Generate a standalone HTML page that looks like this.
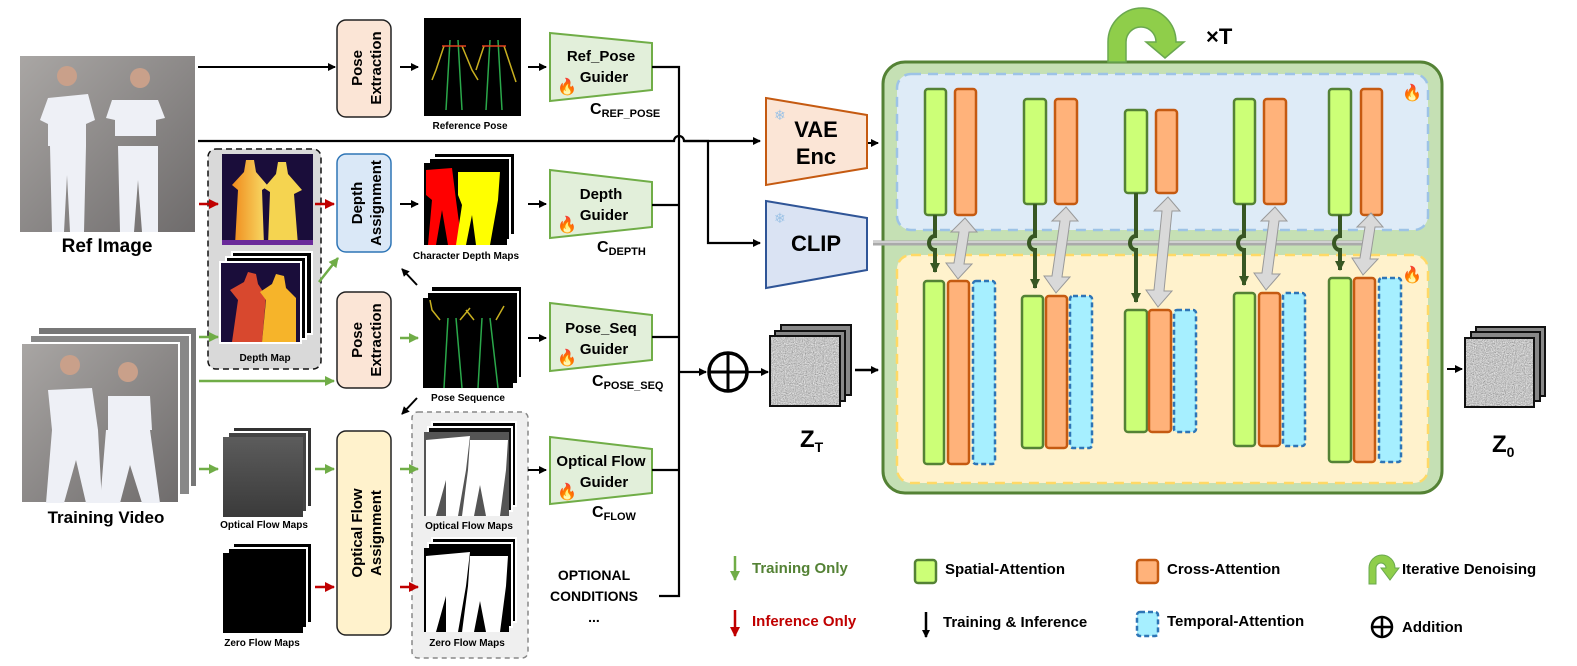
<!DOCTYPE html>
<html><head><meta charset="utf-8"><style>
html,body{margin:0;padding:0;background:#fff;}
svg{display:block;font-family:"Liberation Sans",sans-serif;}
.b{font-weight:bold;}
</style></head><body>
<svg width="1577" height="666" viewBox="0 0 1577 666" xmlns="http://www.w3.org/2000/svg">
<defs>
<marker id="ak" markerWidth="8" markerHeight="8" refX="7" refY="4" orient="auto" markerUnits="userSpaceOnUse"><path d="M0,0L8,4L0,8z" fill="#000"/></marker>
<marker id="ag" markerWidth="10" markerHeight="10" refX="9" refY="5" orient="auto" markerUnits="userSpaceOnUse"><path d="M0,0L10,5L0,10z" fill="#70ad47"/></marker>
<marker id="ar" markerWidth="10" markerHeight="10" refX="9" refY="5" orient="auto" markerUnits="userSpaceOnUse"><path d="M0,0L10,5L0,10z" fill="#c00000"/></marker>
<marker id="adg" markerWidth="10" markerHeight="10" refX="9" refY="5" orient="auto" markerUnits="userSpaceOnUse"><path d="M0,0L10,5L0,10z" fill="#385723"/></marker>
<filter id="noise" x="0" y="0" width="1" height="1"><feTurbulence type="fractalNoise" baseFrequency="0.9" numOctaves="2" seed="3"/><feColorMatrix type="matrix" values="0.6 0.6 0 0 -0.05  0.6 0.6 0 0 -0.05  0.6 0.6 0 0 -0.05  0 0 0 0 1"/></filter>
<linearGradient id="photo" x1="0" y1="0" x2="1" y2="1"><stop offset="0" stop-color="#a9a6a4"/><stop offset="1" stop-color="#6f6c6c"/></linearGradient>
<linearGradient id="dep" x1="0" y1="0" x2="1" y2="0"><stop offset="0" stop-color="#f08a1c"/><stop offset="1" stop-color="#f8e06a"/></linearGradient>
<linearGradient id="flow" x1="0" y1="0" x2="0" y2="1"><stop offset="0" stop-color="#5c5c5c"/><stop offset="1" stop-color="#3a3a3a"/></linearGradient>
</defs>

<!-- Ref image -->
<rect x="20" y="56" width="175" height="176" fill="url(#photo)"/>
<g fill="#eef0f6">
<circle cx="67" cy="76" r="10" fill="#c9a08a"/><circle cx="140" cy="78" r="10" fill="#c9a08a"/>
<path d="M48,98 L88,94 L95,120 L86,124 L86,146 L48,146 L48,124 L40,120z"/>
<path d="M112,100 L158,100 L165,118 L156,120 L156,136 L115,136 L115,120 L106,118z"/>
<path d="M50,146 L86,146 L84,232 L70,232 L67,175 L64,232 L52,232z"/>
<path d="M118,146 L158,146 L158,232 L142,232 L138,180 L134,232 L120,232z"/>
</g>
<text x="107" y="252" font-size="19" class="b" text-anchor="middle">Ref Image</text>

<!-- Training video -->
<rect x="38" y="327" width="159" height="160" fill="#777" stroke="#fff" stroke-width="2"/>
<rect x="30" y="335" width="160" height="160" fill="#888" stroke="#fff" stroke-width="2"/>
<rect x="21" y="343" width="158" height="160" fill="url(#photo)" stroke="#fff" stroke-width="2"/>
<g fill="#eef0f6">
<circle cx="70" cy="365" r="10" fill="#c9a08a"/><circle cx="128" cy="372" r="10" fill="#c9a08a"/>
<path d="M48,390 L92,388 L98,430 L52,430z"/><path d="M108,396 L150,396 L152,430 L108,430z"/>
<path d="M52,430 L98,430 L102,503 L86,503 L76,460 L64,503 L46,503z"/>
<path d="M106,430 L150,430 L160,503 L142,503 L130,465 L120,503 L100,503z"/>
</g>
<text x="106" y="523" font-size="17" class="b" text-anchor="middle">Training Video</text>

<!-- top row -->
<line x1="198" y1="67" x2="335" y2="67" stroke="#000" stroke-width="2" marker-end="url(#ak)"/>
<rect x="337" y="20" width="54" height="97" rx="9" fill="#fbe5d6" stroke="#222" stroke-width="1.5"/>
<text transform="translate(362,68) rotate(-90)" font-size="15" class="b" text-anchor="middle">Pose</text>
<text transform="translate(381,68) rotate(-90)" font-size="15" class="b" text-anchor="middle">Extraction</text>
<line x1="400" y1="67" x2="418" y2="67" stroke="#000" stroke-width="2" marker-end="url(#ak)"/>
<rect x="424" y="18" width="97" height="98" fill="#000"/>
<g stroke-width="1.5" fill="none">
<path d="M450,40 L446,110 M458,40 L462,110" stroke="#2aa84a"/><path d="M490,40 L486,110 M498,40 L502,110" stroke="#2aa84a"/>
<path d="M444,46 L436,70 L432,80 M462,46 L472,70 L478,80" stroke="#c8b020"/><path d="M484,46 L476,70 M504,46 L512,70 L516,82" stroke="#c8b020"/>
<path d="M442,46 L466,46 M482,46 L506,46" stroke="#e04020"/>
</g>
<text x="470" y="129" font-size="10" class="b" text-anchor="middle">Reference Pose</text>
<line x1="528" y1="67" x2="546" y2="67" stroke="#000" stroke-width="2" marker-end="url(#ak)"/>

<!-- guiders -->
<g fill="#e2efda" stroke="#70ad47" stroke-width="2">
<path d="M550,33 L652,43 L652,90 L550,101z"/>
<path d="M550,170 L652,182 L652,227 L550,238z"/>
<path d="M550,303 L652,315 L652,360 L550,371z"/>
<path d="M550,437 L652,449 L652,493 L550,504z"/>
</g>
<g font-size="15" class="b" text-anchor="middle">
<text x="601" y="61">Ref_Pose</text><text x="604" y="82">Guider</text>
<text x="601" y="199">Depth</text><text x="604" y="220">Guider</text>
<text x="601" y="333">Pose_Seq</text><text x="604" y="354">Guider</text>
<text x="601" y="466">Optical Flow</text><text x="604" y="487">Guider</text>
</g>
<g font-size="16">
<text x="557" y="92">🔥</text><text x="557" y="230">🔥</text><text x="557" y="363">🔥</text><text x="557" y="497">🔥</text>
</g>
<g font-size="16" class="b">
<text x="590" y="114">C<tspan font-size="11" dy="3">REF_POSE</tspan></text>
<text x="597" y="252">C<tspan font-size="11" dy="3">DEPTH</tspan></text>
<text x="592" y="386">C<tspan font-size="11" dy="3">POSE_SEQ</tspan></text>
<text x="592" y="517">C<tspan font-size="11" dy="3">FLOW</tspan></text>
</g>

<!-- bus -->
<g stroke="#000" stroke-width="2.2" fill="none">
<path d="M652,67 H679 V596 H659"/>
<path d="M652,205 H679 M652,337 H679 M652,470 H679"/>
<path d="M198,141 H674 A5,5 0 0 1 684,141 H708 V243 H760" marker-end="url(#ak)"/>
<line x1="684" y1="141" x2="760" y2="141" marker-end="url(#ak)"/>
<line x1="679" y1="372" x2="706" y2="372" marker-end="url(#ak)"/>
<circle cx="728" cy="372" r="19" stroke-width="3.5"/>
<path d="M709,372 H747 M728,353 V391" stroke-width="3"/>
<line x1="747" y1="372" x2="768" y2="372" marker-end="url(#ak)"/>
</g>

<!-- depth map box -->
<rect x="208" y="149" width="113" height="220" rx="8" fill="#d9d9d9" stroke="#111" stroke-width="1.5" stroke-dasharray="6,4"/>
<rect x="222" y="154" width="91" height="91" fill="#1a0d3a"/>
<path d="M235,245 L238,190 L232,185 L244,172 L246,160 L254,160 L256,172 L268,186 L262,190 L264,245z" fill="url(#dep)"/>
<path d="M268,245 L270,192 L264,188 L276,174 L278,162 L286,162 L288,174 L302,190 L294,194 L298,245z" fill="#f5d450"/>
<rect x="222" y="240" width="91" height="5" fill="#6a2a9a"/>
<rect x="232" y="252" width="80" height="82" fill="#000" stroke="#fff" stroke-width="2"/>
<rect x="226" y="257" width="80" height="82" fill="#000" stroke="#fff" stroke-width="2"/>
<rect x="220" y="262" width="81" height="81" fill="#1a0d3a" stroke="#fff" stroke-width="2"/>
<path d="M232,342 L238,300 L230,290 L244,282 L248,272 L256,274 L258,284 L266,296 L262,342z" fill="#d8482e"/>
<path d="M262,342 L266,300 L260,292 L272,284 L276,274 L284,276 L286,288 L296,298 L296,342z" fill="#f6b42a"/>
<text x="265" y="361" font-size="10" class="b" text-anchor="middle">Depth Map</text>
<line x1="199" y1="204" x2="218" y2="204" stroke="#c00000" stroke-width="2.5" marker-end="url(#ar)"/>
<line x1="315" y1="204" x2="334" y2="204" stroke="#c00000" stroke-width="2.5" marker-end="url(#ar)"/>
<line x1="199" y1="337" x2="218" y2="337" stroke="#70ad47" stroke-width="2.5" marker-end="url(#ag)"/>
<line x1="319" y1="282" x2="338" y2="258" stroke="#70ad47" stroke-width="2.5" marker-end="url(#ag)"/>
<line x1="199" y1="381" x2="334" y2="381" stroke="#70ad47" stroke-width="2.5" marker-end="url(#ag)"/>

<!-- depth assignment -->
<rect x="337" y="154" width="54" height="98" rx="9" fill="#dae8f7" stroke="#2e75b6" stroke-width="1.5"/>
<text transform="translate(362,203) rotate(-90)" font-size="15" class="b" text-anchor="middle">Depth</text>
<text transform="translate(381,203) rotate(-90)" font-size="15" class="b" text-anchor="middle">Assignment</text>
<line x1="400" y1="204" x2="418" y2="204" stroke="#000" stroke-width="2" marker-end="url(#ak)"/>
<rect x="434" y="153" width="81" height="82" fill="#000" stroke="#fff" stroke-width="2"/>
<rect x="429" y="158" width="81" height="82" fill="#000" stroke="#fff" stroke-width="2"/>
<rect x="424" y="163" width="83" height="82" fill="#000"/>
<path d="M426,170 L452,168 L456,200 L462,245 L448,245 L442,210 L436,245 L428,245 L432,200 L426,195z" fill="#ff0000"/>
<path d="M458,172 L500,172 L498,200 L490,245 L476,245 L472,215 L466,245 L456,245 L462,205 L458,195z" fill="#ffff00"/>
<text x="466" y="259" font-size="10" class="b" text-anchor="middle">Character Depth Maps</text>
<line x1="528" y1="204" x2="546" y2="204" stroke="#000" stroke-width="2" marker-end="url(#ak)"/>
<line x1="417" y1="285" x2="402" y2="269" stroke="#000" stroke-width="2" marker-end="url(#ak)"/>

<!-- pose extraction 2 -->
<rect x="337" y="292" width="54" height="96" rx="9" fill="#fbe5d6" stroke="#222" stroke-width="1.5"/>
<text transform="translate(362,340) rotate(-90)" font-size="15" class="b" text-anchor="middle">Pose</text>
<text transform="translate(381,340) rotate(-90)" font-size="15" class="b" text-anchor="middle">Extraction</text>
<line x1="400" y1="338" x2="418" y2="338" stroke="#70ad47" stroke-width="2.5" marker-end="url(#ag)"/>
<rect x="431" y="286" width="91" height="92" fill="#000" stroke="#fff" stroke-width="2"/>
<rect x="427" y="292" width="91" height="92" fill="#000" stroke="#fff" stroke-width="2"/>
<rect x="423" y="298" width="90" height="90" fill="#000"/>
<g stroke-width="1.5" fill="none">
<path d="M448,318 L444,388 M456,318 L462,388 M482,318 L478,388 M490,318 L498,388" stroke="#2aa84a"/>
<path d="M440,320 L432,310 L430,300 M460,320 L470,308 M474,320 L466,310 M496,320 L504,306" stroke="#c8b020"/>
</g>
<text x="468" y="401" font-size="10" class="b" text-anchor="middle">Pose Sequence</text>
<line x1="528" y1="338" x2="546" y2="338" stroke="#000" stroke-width="2" marker-end="url(#ak)"/>
<line x1="417" y1="398" x2="402" y2="414" stroke="#000" stroke-width="2" marker-end="url(#ak)"/>

<!-- optical flow row -->
<line x1="199" y1="469" x2="218" y2="469" stroke="#70ad47" stroke-width="2.5" marker-end="url(#ag)"/>
<rect x="233" y="427" width="79" height="80" fill="#333" stroke="#fff" stroke-width="2"/>
<rect x="228" y="432" width="79" height="80" fill="#444" stroke="#fff" stroke-width="2"/>
<rect x="223" y="437" width="80" height="80" fill="url(#flow)"/>
<text x="264" y="528" font-size="10" class="b" text-anchor="middle">Optical Flow Maps</text>
<line x1="315" y1="469" x2="334" y2="469" stroke="#70ad47" stroke-width="2.5" marker-end="url(#ag)"/>
<rect x="233" y="543" width="79" height="80" fill="#000" stroke="#fff" stroke-width="2"/>
<rect x="228" y="548" width="79" height="80" fill="#000" stroke="#fff" stroke-width="2"/>
<rect x="223" y="553" width="80" height="80" fill="#000"/>
<text x="262" y="646" font-size="10" class="b" text-anchor="middle">Zero Flow Maps</text>
<line x1="315" y1="587" x2="334" y2="587" stroke="#c00000" stroke-width="2.5" marker-end="url(#ar)"/>
<rect x="337" y="431" width="54" height="204" rx="9" fill="#fff2cc" stroke="#222" stroke-width="1.5"/>
<text transform="translate(362,533) rotate(-90)" font-size="15" class="b" text-anchor="middle">Optical Flow</text>
<text transform="translate(381,533) rotate(-90)" font-size="15" class="b" text-anchor="middle">Assignment</text>
<rect x="412" y="412" width="116" height="246" rx="6" fill="#efefef" stroke="#888" stroke-width="1.5" stroke-dasharray="5,4"/>
<line x1="400" y1="469" x2="418" y2="469" stroke="#70ad47" stroke-width="2.5" marker-end="url(#ag)"/>
<line x1="400" y1="587" x2="418" y2="587" stroke="#c00000" stroke-width="2.5" marker-end="url(#ar)"/>
<g>
<rect x="432" y="422" width="84" height="84" fill="#000" stroke="#fff" stroke-width="2"/>
<rect x="428" y="427" width="84" height="84" fill="#111" stroke="#fff" stroke-width="2"/>
<rect x="424" y="432" width="85" height="84" fill="#555"/>
<path d="M426,440 L470,436 L466,470 L458,516 L446,516 L446,480 L436,516 L426,516z M470,440 L508,440 L506,470 L500,516 L486,516 L480,485 L474,516 L462,516 L468,470z" fill="#fff"/>
<text x="469" y="529" font-size="10" class="b" text-anchor="middle">Optical Flow Maps</text>
<rect x="432" y="538" width="84" height="84" fill="#000" stroke="#fff" stroke-width="2"/>
<rect x="428" y="543" width="84" height="84" fill="#000" stroke="#fff" stroke-width="2"/>
<rect x="424" y="548" width="85" height="84" fill="#000"/>
<path d="M426,556 L470,552 L466,586 L458,632 L446,632 L446,596 L436,632 L426,632z M470,556 L508,556 L506,586 L500,632 L486,632 L480,601 L474,632 L462,632 L468,586z" fill="#fff"/>
<text x="467" y="646" font-size="10" class="b" text-anchor="middle">Zero Flow Maps</text>
</g>
<line x1="528" y1="470" x2="546" y2="470" stroke="#000" stroke-width="2" marker-end="url(#ak)"/>
<g font-size="14" class="b" text-anchor="middle">
<text x="594" y="580">OPTIONAL</text><text x="594" y="601">CONDITIONS</text><text x="594" y="622">...</text>
</g>

<!-- VAE / CLIP -->
<path d="M766,98 L867,115 L867,168 L766,185z" fill="#fbe5d6" stroke="#c55a11" stroke-width="2"/>
<text x="774" y="120" font-size="14" fill="#9dc3e6">❄</text>
<text x="816" y="137" font-size="22" class="b" text-anchor="middle">VAE</text>
<text x="816" y="164" font-size="22" class="b" text-anchor="middle">Enc</text>
<path d="M766,201 L867,218 L867,270 L766,288z" fill="#dae3f3" stroke="#2f5597" stroke-width="2"/>
<text x="774" y="223" font-size="14" fill="#9dc3e6">❄</text>
<text x="816" y="251" font-size="22" class="b" text-anchor="middle">CLIP</text>
<line x1="868" y1="143" x2="878" y2="143" stroke="#000" stroke-width="2" marker-end="url(#ak)"/>

<!-- Z_T -->
<rect x="781" y="325" width="70" height="70" fill="#888" stroke="#111" stroke-width="2"/>
<rect x="775" y="331" width="70" height="70" fill="#888" stroke="#111" stroke-width="2"/>
<rect x="770" y="336" width="70" height="70" fill="#8a8a8a"/>
<rect x="770" y="336" width="70" height="70" filter="url(#noise)"/>
<rect x="770" y="336" width="70" height="70" fill="none" stroke="#111" stroke-width="2"/>
<text x="800" y="447" font-size="24" class="b">Z<tspan font-size="14" dy="5">T</tspan></text>
<line x1="855" y1="370" x2="878" y2="370" stroke="#000" stroke-width="2.5" marker-end="url(#ak)"/>

<!-- main box -->
<rect x="883" y="62" width="559" height="431" rx="22" fill="#c5e0b4" stroke="#548235" stroke-width="3"/>
<rect x="897" y="74" width="531" height="156" rx="14" fill="#deebf7" stroke="#9dc3e6" stroke-width="2.5" stroke-dasharray="10,7"/>
<rect x="897" y="255" width="531" height="228" rx="14" fill="#fff2cc" stroke="#ffd966" stroke-width="2.5" stroke-dasharray="10,7"/>
<text x="1402" y="98" font-size="16">🔥</text>
<text x="1402" y="280" font-size="16">🔥</text>

<!-- loop -->
<path d="M1108,62 V42 A34,34 0 0 1 1176,42 L1184,42 L1165,58 L1146,42 L1156,42 A15,15 0 0 0 1126,42 V62z" fill="#8fce4a" stroke="#6aa84f" stroke-width="1.5"/>
<text x="1206" y="44" font-size="22" class="b">×T</text>

<!-- columns -->
<g stroke-width="2.5">
<g fill="#ccff77" stroke="#548235">
<rect x="925" y="89" width="21" height="126" rx="3"/><rect x="1024" y="99" width="22" height="105" rx="3"/><rect x="1125" y="110" width="22" height="83" rx="3"/><rect x="1234" y="99" width="21" height="105" rx="3"/><rect x="1329" y="89" width="22" height="126" rx="3"/>
<rect x="924" y="281" width="20" height="183" rx="3"/><rect x="1022" y="296" width="21" height="152" rx="3"/><rect x="1125" y="310" width="22" height="122" rx="3"/><rect x="1234" y="293" width="21" height="153" rx="3"/><rect x="1329" y="278" width="22" height="184" rx="3"/>
</g>
<g fill="#ffb27a" stroke="#c55a11">
<rect x="955" y="89" width="21" height="126" rx="3"/><rect x="1055" y="99" width="22" height="105" rx="3"/><rect x="1156" y="110" width="21" height="83" rx="3"/><rect x="1264" y="99" width="22" height="105" rx="3"/><rect x="1361" y="89" width="21" height="126" rx="3"/>
<rect x="948" y="281" width="21" height="183" rx="3"/><rect x="1046" y="296" width="21" height="152" rx="3"/><rect x="1149" y="310" width="22" height="122" rx="3"/><rect x="1259" y="293" width="21" height="153" rx="3"/><rect x="1354" y="278" width="21" height="184" rx="3"/>
</g>
<g fill="#a6efff" stroke="#2e75b6" stroke-dasharray="5,3">
<rect x="973" y="281" width="22" height="183" rx="3"/><rect x="1070" y="296" width="22" height="152" rx="3"/><rect x="1174" y="310" width="22" height="122" rx="3"/><rect x="1283" y="293" width="22" height="153" rx="3"/><rect x="1379" y="278" width="22" height="184" rx="3"/>
</g>
</g>
<!-- gray clip line -->
<line x1="873" y1="243" x2="1363" y2="243" stroke="#aaa" stroke-width="5"/>
<line x1="873" y1="242" x2="1363" y2="242" stroke="#ddd" stroke-width="1.5"/>
<!-- dark green arrows with hops -->
<g stroke="#385723" stroke-width="4" fill="none">
<path d="M935,215 V236 A6,7 0 0 0 935,250 V272" marker-end="url(#adg)"/>
<path d="M1035,204 V236 A6,7 0 0 0 1035,250 V288" marker-end="url(#adg)"/>
<path d="M1136,193 V236 A6,7 0 0 0 1136,250 V302" marker-end="url(#adg)"/>
<path d="M1244,204 V236 A6,7 0 0 0 1244,250 V285" marker-end="url(#adg)"/>
<path d="M1340,215 V236 A6,7 0 0 0 1340,250 V270" marker-end="url(#adg)"/>
</g>
<!-- gray double arrows -->
<g fill="#d9d9d9" stroke="#999" stroke-width="1">
<path d="M965,218 L977,232 L969,232 L964,264 L972,264 L958,279 L946,263 L954,263 L959,232 L951,232z"/>
<path d="M1066,207 L1078,221 L1070,221 L1062,277 L1070,277 L1056,293 L1044,276 L1052,276 L1060,221 L1052,221z"/>
<path d="M1168,197 L1180,211 L1172,211 L1164,291 L1172,291 L1158,307 L1146,290 L1154,290 L1162,211 L1154,211z"/>
<path d="M1275,207 L1287,221 L1279,221 L1272,274 L1280,274 L1266,290 L1254,273 L1262,273 L1269,221 L1261,221z"/>
<path d="M1371,213 L1383,227 L1375,227 L1370,259 L1378,259 L1363,275 L1352,258 L1360,258 L1365,227 L1357,227z"/>
</g>

<!-- Z0 -->
<line x1="1447" y1="369" x2="1462" y2="369" stroke="#000" stroke-width="2" marker-end="url(#ak)"/>
<rect x="1476" y="327" width="69" height="69" fill="#888" stroke="#111" stroke-width="2"/>
<rect x="1471" y="332" width="69" height="69" fill="#888" stroke="#111" stroke-width="2"/>
<rect x="1465" y="338" width="69" height="69" fill="#8a8a8a"/>
<rect x="1465" y="338" width="69" height="69" filter="url(#noise)"/>
<rect x="1465" y="338" width="69" height="69" fill="none" stroke="#111" stroke-width="2"/>
<text x="1492" y="452" font-size="24" class="b">Z<tspan font-size="14" dy="5">0</tspan></text>

<!-- legend -->
<line x1="735" y1="556" x2="735" y2="580" stroke="#70ad47" stroke-width="2.5" marker-end="url(#ag)"/>
<text x="752" y="573" font-size="15" fill="#548235" class="b">Training Only</text>
<line x1="735" y1="610" x2="735" y2="636" stroke="#c00000" stroke-width="2.5" marker-end="url(#ar)"/>
<text x="752" y="626" font-size="15" fill="#c00000" class="b">Inference Only</text>
<rect x="915" y="560" width="21" height="23" rx="3" fill="#ccff77" stroke="#548235" stroke-width="2.5"/>
<text x="945" y="574" font-size="15" class="b">Spatial-Attention</text>
<line x1="926" y1="612" x2="926" y2="637" stroke="#000" stroke-width="2.5" marker-end="url(#ak)"/>
<text x="943" y="627" font-size="15" class="b">Training &amp; Inference</text>
<rect x="1137" y="560" width="21" height="23" rx="3" fill="#ffb27a" stroke="#c55a11" stroke-width="2.5"/>
<text x="1167" y="574" font-size="15" class="b">Cross-Attention</text>
<rect x="1137" y="612" width="21" height="24" rx="3" fill="#a6efff" stroke="#2e75b6" stroke-width="2.5" stroke-dasharray="5,3"/>
<text x="1167" y="626" font-size="15" class="b">Temporal-Attention</text>
<path d="M1369,584 V568 A13,13 0 0 1 1395,568 L1399,568 L1390,580 L1381,568 L1386,568 A5,5 0 0 0 1376,568 V584z" fill="#8fce4a" stroke="#6aa84f" stroke-width="1"/>
<text x="1402" y="574" font-size="15" class="b">Iterative Denoising</text>
<circle cx="1382" cy="627" r="10" fill="none" stroke="#000" stroke-width="2.5"/>
<path d="M1372,627 H1392 M1382,617 V637" stroke="#000" stroke-width="2.5"/>
<text x="1402" y="632" font-size="15" class="b">Addition</text>
</svg>
</body></html>
